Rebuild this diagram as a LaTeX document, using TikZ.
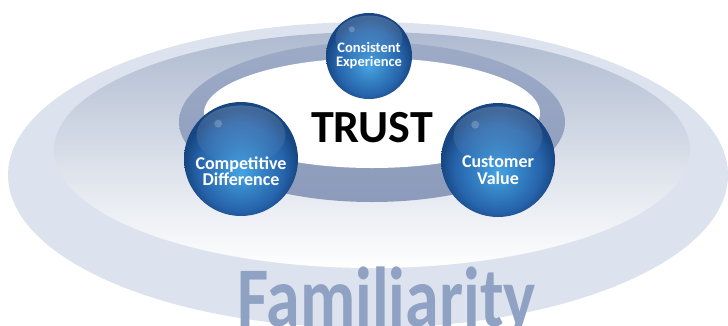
\documentclass[tikz,border=0pt]{standalone}
\usepackage{fontspec}
\setmainfont{Carlito}
\usepackage{graphicx}
\usetikzlibrary{positioning,fadings}

\definecolor{bandgrey}{HTML}{DDE3EE}
\definecolor{dishtop}{HTML}{AEBAD0}
\definecolor{dishmid}{HTML}{D2D9E6}
\definecolor{ringtop}{HTML}{9DABC7}
\definecolor{ringbot}{HTML}{8C9BBB}
\definecolor{familiar}{HTML}{8FA2C4}
\definecolor{orbdark}{HTML}{174682}
\definecolor{orbmid}{HTML}{2663AA}
\definecolor{orblight}{HTML}{45A4E2}

\pgfdeclareradialshading{orbshade}{\pgfpoint{0bp}{-6bp}}{color(0bp)=(orblight); color(10bp)=(orblight!45!orbmid); color(19bp)=(orbmid); color(25bp)=(orbdark); color(50bp)=(orbdark)}

\tikzset{
  orb/.style={circle, shading=orbshade, minimum size=#1, inner sep=0pt},
  orblabel/.style={text=white, font=\bfseries, align=center, inner sep=0pt},
  gloss/.style={white, path fading=south, fill opacity=0.2},
}

\begin{document}
\begin{tikzpicture}[x=1pt,y=-1pt]
	\useasboundingbox (0,0) rectangle (728,325);
	% platter
	\fill [bandgrey] (368,175) ellipse [x radius=360, y radius=153];
	\shade [top color=dishtop, middle color=dishmid, bottom color=white] (372,150) ellipse [x radius=318, y radius=118];
	\shade [top color=ringtop, bottom color=ringbot] (372,122) ellipse [x radius=193, y radius=80];
	\fill [white] (372,113) ellipse [x radius=168, y radius=55];
	\node [text=familiar, font=\bfseries\fontsize{85}{85}\selectfont, anchor=base west, inner sep=0pt] (familiarity) at (237,326) {\scalebox{0.8}[1]{Familiarity}};
	\node [font=\bfseries\fontsize{46}{46}\selectfont] (trust) at (372,128) {TRUST};
	% spheres
	\node [orb=86] (consistent) at (369,56) {};
	\node [orb=114] (competitive) at (241,159) {};
	\node [orb=114] (customer) at (498,160) {};
	\foreach \n/\r in {consistent/43, competitive/57, customer/57} {
		\fill [gloss] ([yshift={0.42*\r*1pt}]\n.center) ellipse [x radius={0.78*\r}, y radius={0.52*\r}];
		\fill [white, opacity=0.2] ([xshift={-0.4*\r*1pt}, yshift={0.62*\r*1pt}]\n.center) circle ({0.07*\r});
	}
	\node [orblabel, font=\bfseries\fontsize{14.5}{14}\selectfont] (consistenttext) at (consistent.center) {Consistent\\Experience};
	\node [orblabel, font=\bfseries\fontsize{18}{16.5}\selectfont] (competitivetext) at ([yshift=-12pt]competitive.center) {Competitive\\Difference};
	\node [orblabel, font=\bfseries\fontsize{18}{16.5}\selectfont] (customertext) at ([yshift=-10pt]customer.center) {Customer\\Value};
\end{tikzpicture}
\end{document}
